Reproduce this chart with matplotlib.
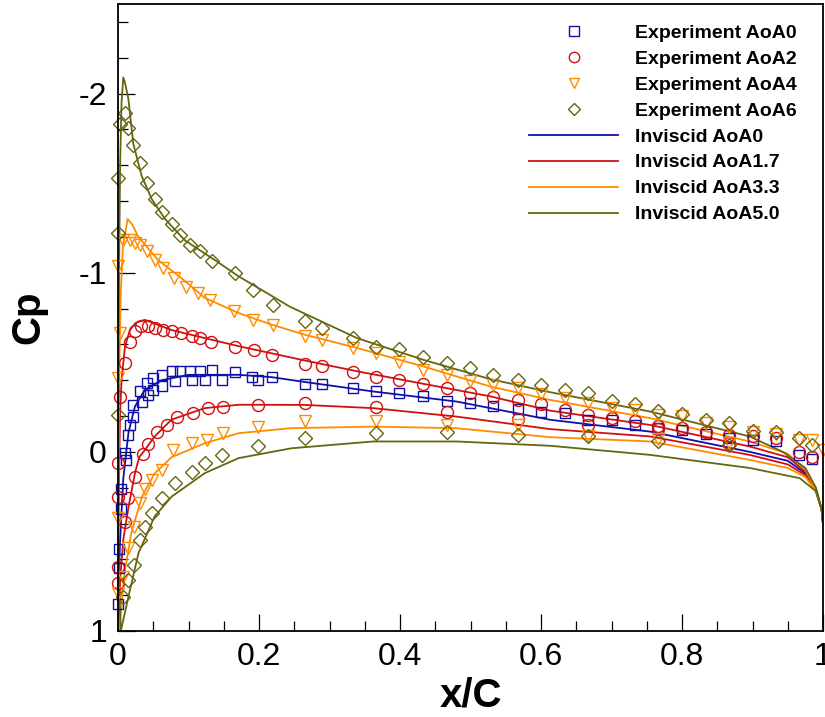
import matplotlib
matplotlib.use('Agg')
import matplotlib.pyplot as plt
from matplotlib.ticker import MultipleLocator
from matplotlib.lines import Line2D

plt.rcParams['font.family'] = ['Liberation Sans', 'DejaVu Sans']

### inviscid curves ###
# AoA 0, symmetric, one branch
inv0_x = [0.0, 0.0005, 0.003, 0.0075, 0.012, 0.015, 0.024, 0.038, 0.062, 0.10, 0.171,
          0.218, 0.265, 0.362, 0.48, 0.613, 0.755, 0.896, 0.95, 0.975, 0.99, 0.998, 1.0]
inv0_cp = [1.0, 0.77, 0.49, 0.15, -0.01, -0.11, -0.253, -0.346, -0.40, -0.43, -0.43,
           -0.417, -0.39, -0.337, -0.281, -0.179, -0.113, 0.0, 0.05, 0.12, 0.22, 0.32, 0.40]

# AoA 1.7
inv17_up_x = [0.001, 0.0, 0.002, 0.003, 0.005, 0.01, 0.017, 0.025, 0.038, 0.076, 0.123, 0.171,
              0.218, 0.265, 0.339, 0.433, 0.528, 0.613, 0.755, 0.896, 0.95, 0.975, 0.99, 0.998, 1.0]
inv17_up_cp = [1.0, 0.6, 0.0, -0.22, -0.40, -0.59, -0.68, -0.72, -0.737, -0.68, -0.635, -0.59,
               -0.55, -0.51, -0.45, -0.38, -0.31, -0.23, -0.15, -0.03, 0.03, 0.11, 0.21, 0.32, 0.40]
inv17_lo_x = [0.001, 0.003, 0.0075, 0.015, 0.024, 0.03, 0.038, 0.052, 0.076, 0.123, 0.171, 0.265,
              0.362, 0.48, 0.613, 0.755, 0.896, 0.95, 0.975, 0.99, 0.998, 1.0]
inv17_lo_cp = [1.0, 0.715, 0.49, 0.305, 0.12, 0.03, -0.01, -0.086, -0.18, -0.244, -0.263, -0.262,
               -0.244, -0.197, -0.127, -0.086, 0.017, 0.07, 0.13, 0.22, 0.32, 0.40]

# AoA 3.3
inv33_up_x = [0.002, 0.0, 0.001, 0.002, 0.004, 0.007, 0.0137, 0.02, 0.029, 0.057, 0.09, 0.123,
              0.171, 0.218, 0.265, 0.339, 0.433, 0.528, 0.613, 0.755, 0.896, 0.95, 0.975, 0.99, 0.998, 1.0]
inv33_up_cp = [1.0, 0.5, 0.0, -0.5, -0.9, -1.15, -1.30, -1.27, -1.20, -1.07, -0.97, -0.86,
               -0.775, -0.71, -0.654, -0.58, -0.477, -0.365, -0.29, -0.188, -0.058, 0.01, 0.10, 0.21, 0.32, 0.40]
inv33_lo_x = [0.002, 0.006, 0.01, 0.019, 0.034, 0.052, 0.076, 0.123, 0.171, 0.244, 0.362, 0.48,
              0.613, 0.755, 0.896, 0.95, 0.975, 0.99, 0.998, 1.0]
inv33_lo_cp = [1.0, 0.80, 0.66, 0.45, 0.25, 0.12, 0.03, -0.048, -0.104, -0.132, -0.141, -0.132,
               -0.082, -0.058, 0.045, 0.09, 0.14, 0.22, 0.32, 0.40]

# AoA 5.0
inv50_up_x = [0.004, 0.001, 0.0, 0.0005, 0.0015, 0.003, 0.005, 0.0075, 0.01, 0.0147, 0.0217,
              0.0336, 0.048, 0.0667, 0.095, 0.1376, 0.171, 0.244, 0.339, 0.433, 0.528, 0.613,
              0.755, 0.896, 0.943, 0.975, 0.99, 0.998, 1.0]
inv50_up_cp = [1.0, 0.7, 0.3, -0.3, -1.0, -1.6, -1.95, -2.09, -2.06, -1.97, -1.72,
               -1.54, -1.41, -1.30, -1.18, -1.07, -0.98, -0.81, -0.635, -0.514, -0.406, -0.333,
               -0.225, -0.086, 0.0, 0.09, 0.20, 0.32, 0.40]
inv50_lo_x = [0.004, 0.0147, 0.029, 0.052, 0.076, 0.123, 0.171, 0.246, 0.362, 0.48, 0.613,
              0.755, 0.896, 0.967, 0.99, 0.998, 1.0]
inv50_lo_cp = [1.0, 0.81, 0.566, 0.36, 0.25, 0.119, 0.035, -0.02, -0.058, -0.058, -0.034,
               0.017, 0.09, 0.147, 0.22, 0.32, 0.40]

### experiments ###
exp0_x = [0.0, 0.0014, 0.0014, 0.004, 0.004, 0.012, 0.0099, 0.0147, 0.017, 0.0217, 0.0217,
          0.031, 0.0336, 0.0407, 0.043, 0.050, 0.050, 0.062, 0.062, 0.076, 0.081, 0.088,
          0.102, 0.105, 0.116, 0.123, 0.133, 0.147, 0.166, 0.19, 0.199, 0.218, 0.265, 0.289,
          0.333, 0.366, 0.399, 0.433, 0.466, 0.499, 0.532, 0.567, 0.60, 0.634, 0.667, 0.70,
          0.733, 0.766, 0.80, 0.834, 0.867, 0.90, 0.934, 0.966, 0.984]
exp0_cp = [0.85, 0.65, 0.54, 0.32, 0.21, 0.045, 0.007, -0.095, -0.151, -0.197, -0.263,
           -0.337, -0.281, -0.384, -0.318, -0.41, -0.346, -0.43, -0.365, -0.449, -0.393, -0.449,
           -0.449, -0.402, -0.449, -0.402, -0.458, -0.402, -0.443, -0.417, -0.402, -0.417, -0.38, -0.38,
           -0.356, -0.337, -0.328, -0.313, -0.285, -0.272, -0.257, -0.238, -0.22, -0.216, -0.179, -0.179,
           -0.151, -0.132, -0.123, -0.099, -0.076, -0.067, -0.058, 0.017, 0.041]

exp2_x = [0.0, 0.0, 0.0099, 0.0147, 0.0, 0.0, 0.024, 0.036, 0.043,
          0.003, 0.0099, 0.017, 0.024, 0.0326, 0.043, 0.052, 0.064, 0.076, 0.09, 0.105, 0.116,
          0.132, 0.166, 0.193, 0.218, 0.265, 0.289, 0.333, 0.366, 0.399, 0.433, 0.466, 0.499,
          0.532, 0.567, 0.60, 0.634, 0.667, 0.70, 0.733, 0.766, 0.80, 0.834, 0.867, 0.90, 0.934,
          0.966, 0.984,
          0.055, 0.069, 0.083, 0.107, 0.128, 0.149, 0.199, 0.265, 0.366, 0.466, 0.567, 0.667,
          0.766, 0.867]
exp2_cp = [0.73, 0.64, 0.39, 0.259, 0.25, 0.063, 0.138, 0.01, -0.045,
           -0.309, -0.495, -0.616, -0.672, -0.70, -0.70, -0.69, -0.68, -0.672, -0.663, -0.644, -0.635,
           -0.616, -0.588, -0.566, -0.542, -0.49, -0.477, -0.443, -0.42, -0.40, -0.38, -0.356, -0.331,
           -0.309, -0.29, -0.266, -0.235, -0.207, -0.188, -0.17, -0.142, -0.132, -0.113, -0.095, -0.086, -0.076,
           0.0, 0.026,
           -0.113, -0.151, -0.197, -0.216, -0.244, -0.253, -0.263, -0.272, -0.253, -0.22, -0.183, -0.15,
           -0.13, -0.048]

exp4_x = [0.0, 0.003, 0.0, 0.0075, 0.017, 0.024, 0.031, 0.041, 0.052, 0.064, 0.079, 0.097,
          0.114, 0.13, 0.164, 0.192, 0.22, 0.265, 0.289, 0.333, 0.366, 0.399, 0.433, 0.466,
          0.499, 0.532, 0.567, 0.60, 0.634, 0.667, 0.70, 0.733, 0.766, 0.80, 0.834, 0.867,
          0.90, 0.934, 0.966, 0.984, 1.0,
          0.0, 0.0, 0.0075, 0.0147, 0.022, 0.031, 0.038, 0.048, 0.062, 0.078, 0.105, 0.126,
          0.149, 0.199, 0.265, 0.366, 0.466, 0.567, 0.667, 0.766, 0.867]
exp4_cp = [-1.035, -0.663, -0.41, -1.18, -1.18, -1.166, -1.156, -1.12, -1.07, -1.026, -0.97, -0.923,
           -0.886, -0.85, -0.784, -0.737, -0.71, -0.648, -0.622, -0.58, -0.55, -0.50, -0.458, -0.43,
           -0.393, -0.374, -0.356, -0.324, -0.30, -0.272, -0.244, -0.235, -0.207, -0.20, -0.16, -0.138,
           -0.113, -0.10, -0.067, -0.067, -0.01,
           0.37, 0.79, 0.70, 0.538, 0.417, 0.287, 0.21, 0.156, 0.10, -0.01, -0.048, -0.067,
           -0.104, -0.141, -0.17, -0.17, -0.151, -0.151, -0.086, -0.07, -0.05]

exp6_x = [0.0099, 0.003, 0.0147, 0.0217, 0.031, 0.041, 0.052, 0.062, 0.076, 0.088, 0.102,
          0.116, 0.133, 0.166, 0.192, 0.22, 0.265, 0.289, 0.333, 0.366, 0.399, 0.433, 0.466,
          0.499, 0.532, 0.567, 0.60, 0.634, 0.667, 0.70, 0.733, 0.766, 0.80, 0.834, 0.867,
          0.90, 0.934, 0.966, 0.984,
          0.0, 0.0, 0.0,
          0.0075, 0.0147, 0.022, 0.031, 0.038, 0.048, 0.062, 0.081, 0.105, 0.123, 0.147, 0.199,
          0.265, 0.366, 0.466, 0.567, 0.667, 0.766, 0.867]
exp6_cp = [-1.89, -1.83, -1.81, -1.715, -1.61, -1.50, -1.41, -1.34, -1.27, -1.21, -1.156,
           -1.12, -1.063, -0.998, -0.905, -0.82, -0.728, -0.69, -0.635, -0.588, -0.574, -0.532, -0.495,
           -0.467, -0.43, -0.402, -0.374, -0.346, -0.328, -0.285, -0.266, -0.23, -0.212, -0.179, -0.16,
           -0.119, -0.113, -0.076, -0.039,
           -1.53, -1.22, -0.207,
           0.81, 0.715, 0.63, 0.49, 0.417, 0.343, 0.259, 0.175, 0.11, 0.063, 0.017, -0.03,
           -0.076, -0.104, -0.113, -0.095, -0.086, -0.058, -0.039]

x_ticks = [0, 0.2, 0.4, 0.6, 0.8, 1.0]
x_ticklabels = ['0', '0.2', '0.4', '0.6', '0.8', '1']
y_ticks = [-2, -1, 0, 1]
y_ticklabels = ['-2', '-1', '0', '1']

c_blue = '#1010a8'
c_red = '#d01010'
c_orange = '#ff8c00'
c_olive = '#666610'

fig = plt.figure(figsize=(8.25, 7.17), dpi=100)
ax = fig.add_axes([118/825, 1 - 631/717, 705/825, 627/717])

lw = 1.3
ax.plot(inv0_x, inv0_cp, color=c_blue, lw=lw)
ax.plot(inv17_lo_x[::-1] + inv17_up_x, inv17_lo_cp[::-1] + inv17_up_cp, color=c_red, lw=lw)
ax.plot(inv33_lo_x[::-1] + inv33_up_x, inv33_lo_cp[::-1] + inv33_up_cp, color=c_orange, lw=lw)
ax.plot(inv50_lo_x[::-1] + inv50_up_x, inv50_lo_cp[::-1] + inv50_up_cp, color=c_olive, lw=lw)

mk = dict(ls='none', mfc='none', mew=1.0, clip_on=False)
ax.plot(exp0_x, exp0_cp, marker='s', ms=7.6, mec=c_blue, **mk)
ax.plot(exp2_x, exp2_cp, marker='o', ms=8.6, mec=c_red, **mk)
ax.plot(exp4_x, exp4_cp, marker='v', ms=8.6, mec=c_orange, **mk)
ax.plot(exp6_x, exp6_cp, marker='D', ms=7.4, mec=c_olive, **mk)

ax.set_xlim(0, 1)
ax.set_ylim(1, -2.5)
ax.set_xticks(x_ticks)
ax.set_xticklabels(x_ticklabels)
ax.set_yticks(y_ticks)
ax.set_yticklabels(y_ticklabels)
ax.xaxis.set_minor_locator(MultipleLocator(0.05))
ax.yaxis.set_minor_locator(MultipleLocator(0.2))
ax.tick_params(which='both', direction='in', top=False, right=False, labelsize=23, pad=8, width=0.9)
ax.tick_params(which='major', length=12)
ax.tick_params(which='minor', length=7.5)
for s in ax.spines.values():
    s.set_linewidth(1.3)

ax.set_xlabel('x/C', fontsize=29, fontweight='bold', labelpad=3)
ax.set_ylabel('Cp', fontsize=29, fontweight='bold', labelpad=22)

handles = [
    Line2D([], [], ls='none', marker='s', ms=6.5, mfc='none', mec=c_blue, mew=1.0),
    Line2D([], [], ls='none', marker='o', ms=7.5, mfc='none', mec=c_red, mew=1.0),
    Line2D([], [], ls='none', marker='v', ms=7.5, mfc='none', mec=c_orange, mew=1.0),
    Line2D([], [], ls='none', marker='D', ms=6.5, mfc='none', mec=c_olive, mew=1.0),
    Line2D([], [], color=c_blue, lw=lw),
    Line2D([], [], color=c_red, lw=lw),
    Line2D([], [], color=c_orange, lw=lw),
    Line2D([], [], color=c_olive, lw=lw),
]
labels = ['Experiment AoA0', 'Experiment AoA2', 'Experiment AoA4', 'Experiment AoA6',
          'Inviscid AoA0', 'Inviscid AoA1.7', 'Inviscid AoA3.3', 'Inviscid AoA5.0']
fig.legend(handles, labels, loc='upper left', bbox_to_anchor=(529/825, 1 - 24/717),
           frameon=False, borderpad=0, borderaxespad=0, handlelength=4.6, handletextpad=0.87,
           labelspacing=0.43, prop={'size': 14, 'weight': 'bold'})

fig.savefig('out.png', dpi=100)
